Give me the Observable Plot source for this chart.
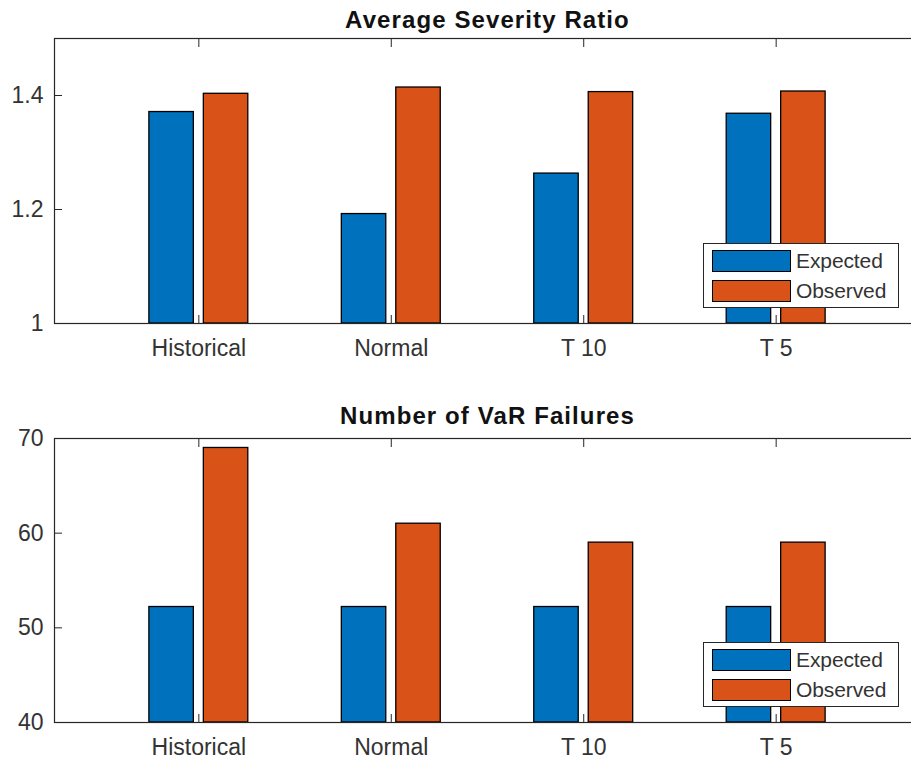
<!DOCTYPE html>
<html>
<head>
<meta charset="utf-8">
<script src="https://cdn.jsdelivr.net/npm/d3@7"></script>
<script src="https://cdn.jsdelivr.net/npm/@observablehq/plot@0.6"></script>
<style>
  html, body { margin: 0; padding: 0; background: #fff; }
  body { width: 911px; height: 761px; overflow: hidden; font-family: "Liberation Sans", Arial, sans-serif; }
  .panel { position: relative; width: 911px; }
  .legend { position: absolute; background: #fff; border: 1px solid #262626; box-sizing: border-box; }
  .legend .row { position: absolute; left: 8px; display: flex; align-items: center; }
  .legend .sw { width: 79px; height: 22px; border: 1.3px solid #000; box-sizing: border-box; }
  .legend .lab { margin-left: 5px; font-size: 21px; color: #333; letter-spacing: -0.1px; }
  g[font-weight="bold"] text { letter-spacing: 1.1px; }
</style>
</head>
<body>
<div id="chart"></div>
<script>
// ---- data ----
const categories = ["Historical", "Normal", "T 10", "T 5"];
const seriesNames = ["Expected", "Observed"];
const seriesColors = ["#0072BD", "#D95319"];
const severityExpected = [1.371, 1.192, 1.263, 1.368];
const severityObserved = [1.403, 1.414, 1.406, 1.407];
const failuresExpected = [52.2, 52.2, 52.2, 52.2];
const failuresObserved = [69, 61, 59, 59];
const severityTicks = [1, 1.2, 1.4];
const failuresTicks = [40, 50, 60, 70];

// grouped-bar geometry (category units, MATLAB style)
const barOffsets = [[-0.257, -0.026], [0.026, 0.257]];

function rows(expected, observed) {
  const out = [];
  categories.forEach((c, i) => {
    [expected, observed].forEach((arr, s) => {
      out.push({pos: i + 1, series: seriesNames[s], s, value: arr[i]});
    });
  });
  return out;
}

function panel({title, expected, observed, yDomain, yTicks, height, top, bottom, titleDy, fmt, legendTop}) {
  const data = rows(expected, observed);
  const base = yDomain[0];
  const plot = Plot.plot({
    width: 911,
    height,
    marginLeft: 54,
    marginRight: -9,
    marginTop: top,
    marginBottom: height - bottom,
    style: {fontFamily: '"Liberation Sans", Arial, sans-serif', color: "#262626", background: "#fff", display: "block", maxWidth: "none"},
    x: {type: "linear", domain: [0.25, 4.75], range: [54, 920]},
    y: {domain: yDomain, range: [bottom, top]},
    color: {domain: seriesNames, range: seriesColors},
    marks: [
      Plot.rect(data, {
        x1: d => d.pos + barOffsets[d.s][0],
        x2: d => d.pos + barOffsets[d.s][1],
        y1: () => base,
        y2: "value",
        fill: "series",
        stroke: "#000",
        strokeWidth: 1.3
      }),
      Plot.frame({stroke: "#262626", strokeWidth: 1.2}),
      // inward ticks
      Plot.axisX({anchor: "bottom", ticks: [1, 2, 3, 4], tickSize: -8, fill: "none", label: null, stroke: "#262626"}),
      Plot.axisX({anchor: "top", ticks: [1, 2, 3, 4], tickSize: -8, fill: "none", label: null, stroke: "#262626"}),
      Plot.axisY({anchor: "left", ticks: yTicks, tickSize: -8, fill: "none", label: null, stroke: "#262626"}),
      // labels
      Plot.axisX({anchor: "bottom", ticks: [1, 2, 3, 4], tickSize: 0, tickPadding: 16, fontSize: 23,
        tickFormat: d => categories[d - 1], label: null, fill: "#333"}),
      Plot.axisY({anchor: "left", ticks: yTicks, tickSize: 0, tickPadding: 11, fontSize: 23,
        tickFormat: fmt, label: null, fill: "#333"}),
      Plot.text([title], {frameAnchor: "top", lineAnchor: "bottom", dy: titleDy, fontSize: 24,
        fontWeight: "bold", fill: "#111", text: d => d})
    ]
  });
  const wrap = document.createElement("div");
  wrap.className = "panel";
  wrap.style.height = height + "px";
  wrap.appendChild(plot);

  const leg = document.createElement("div");
  leg.className = "legend";
  leg.style.left = "703px";
  leg.style.top = legendTop + "px";
  leg.style.width = "196px";
  leg.style.height = "65px";
  seriesNames.forEach((name, i) => {
    const r = document.createElement("div");
    r.className = "row";
    r.style.top = (5 + i * 30) + "px";
    const sw = document.createElement("div");
    sw.className = "sw";
    sw.style.background = seriesColors[i];
    const lab = document.createElement("span");
    lab.className = "lab";
    lab.textContent = name;
    r.appendChild(sw);
    r.appendChild(lab);
    leg.appendChild(r);
  });
  wrap.appendChild(leg);
  return wrap;
}

const root = document.getElementById("chart");
root.appendChild(panel({
  title: "Average Severity Ratio",
  expected: severityExpected, observed: severityObserved,
  yDomain: [1, 1.5], yTicks: severityTicks,
  height: 380, top: 38, bottom: 323, titleDy: -11,
  fmt: d => String(+(+d).toFixed(1)),
  legendTop: 243
}));
root.appendChild(panel({
  title: "Number of VaR Failures",
  expected: failuresExpected, observed: failuresObserved,
  yDomain: [40, 70], yTicks: failuresTicks,
  height: 381, top: 58, bottom: 342, titleDy: -15,
  fmt: d => String(d),
  legendTop: 262
}));
</script>
</body>
</html>
